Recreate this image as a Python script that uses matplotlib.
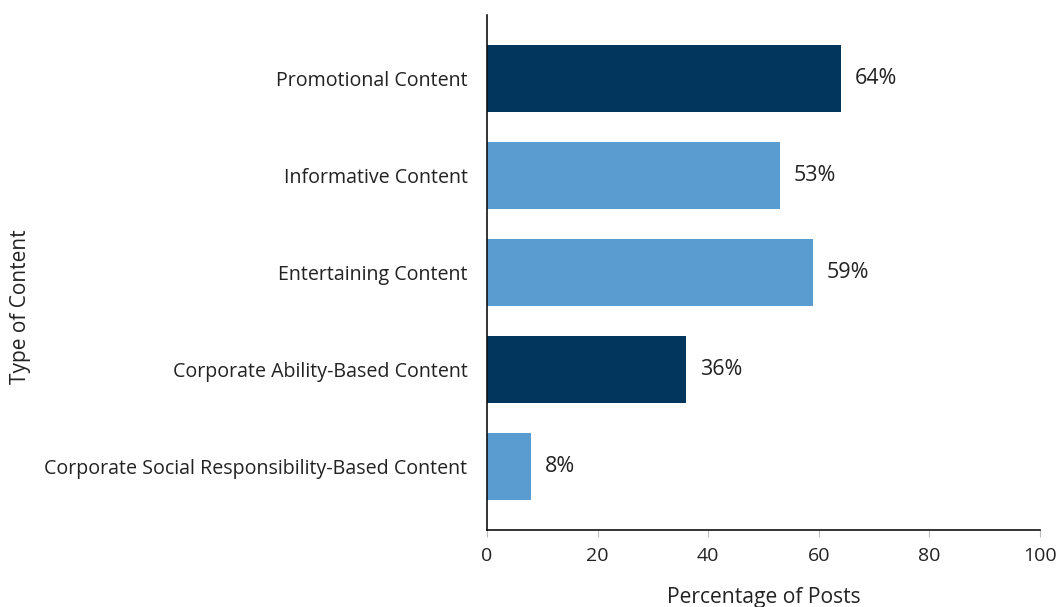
import matplotlib.pyplot as plt

# Share of posts by content type
categories = [
    "Promotional Content",
    "Informative Content",
    "Entertaining Content",
    "Corporate Ability-Based Content",
    "Corporate Social Responsibility-Based Content",
]
percentages = [64, 53, 59, 36, 8]
highlight = [True, False, False, True, False]

DARK = "#02365c"
LIGHT = "#5a9bd0"

plt.rcParams["font.family"] = ["Open Sans", "DejaVu Sans"]

fig = plt.figure(figsize=(10.6, 6.07), dpi=100)
ax = fig.add_axes([0.4594, 0.1269, 0.5217, 0.8484])

ypos = list(range(len(categories)))
colors = [DARK if h else LIGHT for h in highlight]
ax.barh(ypos, percentages, height=0.69, color=colors)

# value labels next to each bar
for y, v in zip(ypos, percentages):
    ax.text(v + 2.5, y, f"{v}%", va="center", ha="left", fontsize=15.5, color="#222222")

ax.set_yticks(ypos)
ax.set_yticklabels(categories, fontsize=14.1, color="#222222")
ax.set_ylim(len(categories) - 0.35, -0.65)
ax.set_xlim(0, 100)
ax.set_xticks([0, 20, 40, 60, 80, 100])
ax.tick_params(axis="x", labelsize=14, colors="#222222", length=5, width=0.8, pad=7)
ax.tick_params(axis="x", color="#bbbbbb")
ax.tick_params(axis="y", length=0, pad=14)

for side in ["top", "right"]:
    ax.spines[side].set_visible(False)
for side in ["left", "bottom"]:
    ax.spines[side].set_color("#111111")
    ax.spines[side].set_linewidth(1.2)

ax.set_xlabel("Percentage of Posts", fontsize=15.2, color="#222222", labelpad=16)
fig.text(0.019, 0.495, "Type of Content", rotation=90, va="center", ha="center",
         fontsize=15, color="#222222")

fig.savefig("out.png", dpi=100)
